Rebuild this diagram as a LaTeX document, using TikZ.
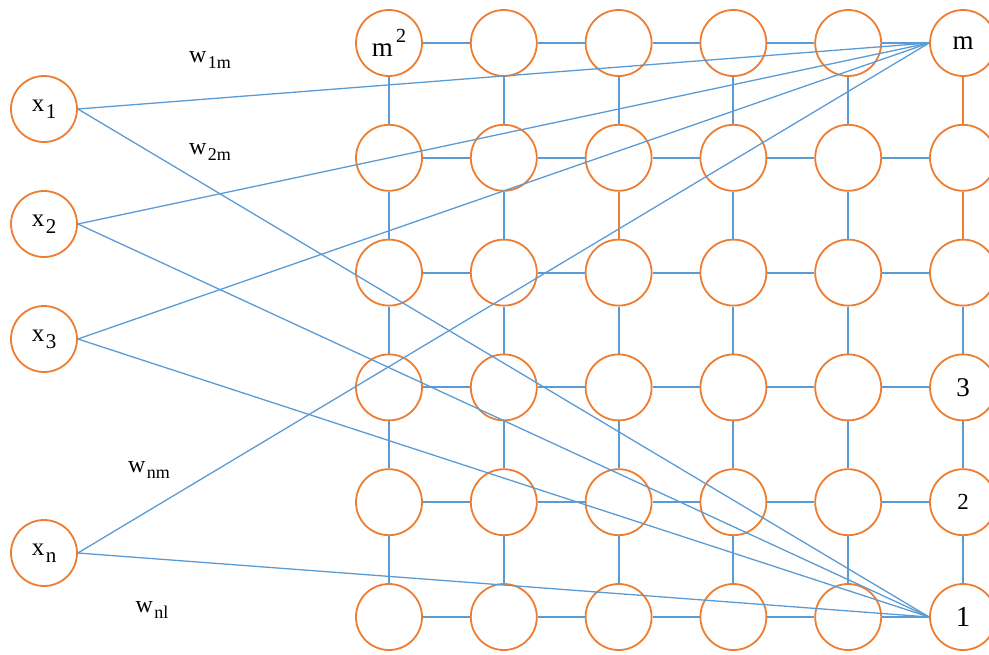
\documentclass[tikz,border=0pt]{standalone}
\usepackage{fontspec}
\setmainfont{Liberation Serif}
\usetikzlibrary{math}
\definecolor{qorange}{RGB}{237,125,49}
\definecolor{qblue}{RGB}{91,155,213}
\tikzset{
 neuron/.style={circle,draw=qorange,line width=1.8pt,minimum size=66pt,inner sep=0pt,font=\fontsize{25}{25}\selectfont},
 link/.style={draw=qblue,line width=2pt},
 olink/.style={draw=qorange,line width=2pt},
 weight/.style={draw=qblue,line width=1.3pt},
 wlabel/.style={font=\fontsize{24}{24}\selectfont},
}
\newcommand{\lowidx}[2][21]{\kern1.5pt\raisebox{-0.28em}{\fontsize{#1}{#1}\selectfont #2}}

\begin{document}
\begin{tikzpicture}[x=1pt,y=-1pt]
\tikzmath{
\dx=114.8;
\cx=389;
\cy=43;
}
\useasboundingbox (0,0) rectangle (989,654);
%grid of neurons
\foreach \r in {1,...,6}{
 \foreach \c in {1,...,6}{
   \node[neuron] (n-\r-\c) at ({\cx+(\c-1)*\dx},{\cy+(\r-1)*\dx}) {};
 }
}
%neighbour links
\foreach \r in {1,...,6}{
 \foreach \c [evaluate=\c as \cn using int(\c+1)] in {1,...,5}{
   \draw[link] (n-\r-\c) -- (n-\r-\cn);
 }
}
\foreach \r [evaluate=\r as \rn using int(\r+1)] in {1,...,5}{
 \foreach \c in {1,...,6}{
   \draw[link] (n-\r-\c) -- (n-\rn-\c);
 }
}
\draw[olink] (n-1-6) -- (n-2-6) (n-2-6) -- (n-3-6) (n-2-3) -- (n-3-3);
%grid labels
\node[font=\fontsize{27}{27}\selectfont] at (n-1-1) {m\raisebox{0.5em}{\fontsize{20}{20}\selectfont\,2}};
\node[font=\fontsize{27}{27}\selectfont] at (n-1-6) {m};
\node[font=\fontsize{27}{27}\selectfont] at (n-4-6) {3};
\node[font=\fontsize{23}{23}\selectfont] at (n-5-6) {2};
\node[font=\fontsize{29}{29}\selectfont] at (n-6-6) {1};
%inputs
\node[neuron] (x1) at (44,109) {x\lowidx{1}};
\node[neuron] (x2) at (44,224) {x\lowidx{2}};
\node[neuron] (x3) at (44,339) {x\lowidx{3}};
\node[neuron] (xn) at (44,553) {x\lowidx{n}};
%weights
\foreach \i in {x1,x2,x3,xn}{
 \draw[weight] (\i.east) -- (n-1-6.west);
 \draw[weight] (\i.east) -- (n-6-6.west);
}
\node[wlabel] at (210,60) {w\lowidx[18]{1m}};
\node[wlabel] at (210,152) {w\lowidx[18]{2m}};
\node[wlabel] at (149,470) {w\lowidx[18]{nm}};
\node[wlabel] at (152,610) {w\lowidx[18]{nl}};
\end{tikzpicture}
\end{document}
